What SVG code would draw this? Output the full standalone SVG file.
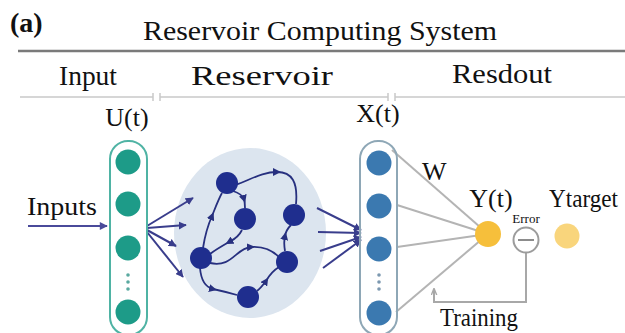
<svg xmlns="http://www.w3.org/2000/svg" width="625" height="333" viewBox="0 0 625 333">
<style>
  text { font-family: "Liberation Serif", "Times New Roman", serif; fill: #111; }
  .hdr { font-size: 28px; }
  .lbl { font-size: 26px; }
  .edge { fill: none; stroke: #27307f; stroke-width: 1.8; }
  .fan { stroke: #393d8c; stroke-width: 2; marker-end: url(#fanArrow); }
  .out { stroke: #b4b4b4; stroke-width: 2; }
  .rnode { fill: #1f2e8e; }
  .unode { fill: #1d9b88; }
  .xnode { fill: #3b79b0; }
</style>
<defs>
  <marker id="midArrow" viewBox="0 0 10 10" refX="5" refY="5" markerWidth="8" markerHeight="8" markerUnits="userSpaceOnUse" orient="auto">
    <path d="M0,0 L10,5 L0,10 z" fill="#27307f"/>
  </marker>
  <marker id="fanArrow" viewBox="0 0 10 10" refX="9" refY="5" markerWidth="8" markerHeight="8" markerUnits="userSpaceOnUse" orient="auto">
    <path d="M0,0 L10,5 L0,10 z" fill="#393d8c"/>
  </marker>
  <marker id="inArrow" viewBox="0 0 10 10" refX="9" refY="5" markerWidth="9" markerHeight="8" markerUnits="userSpaceOnUse" orient="auto">
    <path d="M0,0 L10,5 L0,10 z" fill="#4a4a9a"/>
  </marker>
  <marker id="grayArrow" viewBox="0 0 10 10" refX="9" refY="5" markerWidth="7" markerHeight="7" markerUnits="userSpaceOnUse" orient="auto">
    <path d="M0,1 L10,5 L0,9" fill="none" stroke="#a8a8a8" stroke-width="2"/>
  </marker>
</defs>
<rect width="625" height="333" fill="#ffffff"/>

<!-- headers -->
<g id="header">
  <text x="10" y="32" style="font-size:28px;font-weight:bold">(a)</text>
  <text x="143" y="40" style="font-size:28px" textLength="354" lengthAdjust="spacingAndGlyphs">Reservoir Computing System</text>
  <line x1="18" y1="51" x2="625" y2="51" stroke="#7a7a7a" stroke-width="2.5"/>
  <text class="hdr" x="59" y="85" textLength="58" lengthAdjust="spacingAndGlyphs">Input</text>
  <text class="hdr" x="191" y="85" textLength="142" lengthAdjust="spacingAndGlyphs">Reservoir</text>
  <text class="hdr" x="452" y="83" textLength="100" lengthAdjust="spacingAndGlyphs">Resdout</text>
  <g stroke="#c8c8c8" stroke-width="1.5">
    <line x1="20" y1="97" x2="153" y2="97"/>
    <line x1="153" y1="93" x2="153" y2="101"/>
    <line x1="160" y1="93" x2="160" y2="101"/>
    <line x1="160" y1="97" x2="388" y2="97"/>
    <line x1="388" y1="93" x2="388" y2="101"/>
    <line x1="395" y1="93" x2="395" y2="101"/>
    <line x1="395" y1="97" x2="625" y2="97"/>
  </g>
</g>

<!-- reservoir background -->
<g id="reservoir">
  <ellipse cx="250" cy="233" rx="76" ry="85" fill="#dce5ef"/>
</g>

<!-- connectors -->
<g id="connectors">
  <line x1="28" y1="226" x2="107" y2="226" stroke="#4a4a9a" stroke-width="2" marker-end="url(#inArrow)"/>
  <line class="fan" x1="147" y1="226" x2="193" y2="198"/>
  <line class="fan" x1="147" y1="228" x2="186" y2="225"/>
  <line class="fan" x1="147" y1="230" x2="176" y2="246"/>
  <line class="fan" x1="147" y1="232" x2="183" y2="277"/>
  <g class="res-edges" marker-mid="url(#midArrow)">
    <path class="edge" d="M235,185 C250,180 262,172 277,172 C292,172 298,182 296,204"/>
    <path class="edge" d="M233,191 Q242,194 244,199 Q245,203 245,208"/>
    <path class="edge" d="M203,248 C205,235 208,225 212,216 C216,206 219,198 222,193"/>
    <path class="edge" d="M242,230 C238,238 233,240 229,242 C222,246 215,250 210,254"/>
    <path class="edge" d="M210,263 C232,268 236,248 251,247 C264,246 272,250 279,257"/>
    <path class="edge" d="M285,251 C284,245 284,240 285,236 C286,230 289,227 291,225"/>
    <path class="edge" d="M200,268 C201,280 205,287 213,289 C222,291 230,293 237,295"/>
    <path class="edge" d="M257,291 C261,288 263,285 266,281 C270,274 274,270 279,267"/>
  </g>
  <line class="fan" x1="317" y1="208" x2="361" y2="230"/>
  <line class="fan" x1="318" y1="232" x2="361" y2="233"/>
  <line class="fan" x1="320" y1="251" x2="361" y2="237"/>
  <line class="fan" x1="323" y1="268" x2="361" y2="240"/>
  <line class="out" x1="392" y1="150" x2="488" y2="234"/>
  <line class="out" x1="397" y1="205" x2="488" y2="234"/>
  <line class="out" x1="397" y1="247" x2="488" y2="234"/>
  <line class="out" x1="396" y1="312" x2="488" y2="234"/>
  <path d="M526,253 V302 H434 V289" fill="none" stroke="#a8a8a8" stroke-width="2" marker-end="url(#grayArrow)"/>
</g>

<!-- input layer -->
<g id="input-layer">
  <text class="lbl" x="127" y="126" text-anchor="middle">U(t)</text>
  <text class="lbl" x="27" y="215" textLength="70" lengthAdjust="spacingAndGlyphs">Inputs</text>
  <rect x="110" y="141" width="37" height="194" rx="18" fill="#ffffff" stroke="#4fb3a4" stroke-width="2"/>
  <circle class="unode" cx="128" cy="162" r="12.5"/>
  <circle class="unode" cx="128" cy="204" r="12.5"/>
  <circle class="unode" cx="128" cy="248" r="12.5"/>
  <circle cx="128" cy="275" r="1.8" fill="#5aa9a0"/>
  <circle cx="128" cy="282" r="1.8" fill="#5aa9a0"/>
  <circle cx="128" cy="289" r="1.8" fill="#5aa9a0"/>
  <circle class="unode" cx="128" cy="312" r="12.5"/>
</g>

<g id="reservoir-nodes">
  <circle class="rnode" cx="227" cy="183" r="11"/>
  <circle class="rnode" cx="245" cy="219" r="11"/>
  <circle class="rnode" cx="294" cy="215" r="11"/>
  <circle class="rnode" cx="201" cy="258" r="11"/>
  <circle class="rnode" cx="287" cy="262" r="11"/>
  <circle class="rnode" cx="248" cy="297" r="11"/>
</g>

<!-- state layer -->
<g id="state-layer">
  <text class="lbl" x="378" y="122" text-anchor="middle">X(t)</text>
  <rect x="360" y="141" width="37" height="194" rx="18" fill="none" stroke="#8ea7b6" stroke-width="2"/>
  <circle class="xnode" cx="379" cy="163" r="12.5"/>
  <circle class="xnode" cx="379" cy="206" r="12.5"/>
  <circle class="xnode" cx="379" cy="249" r="12.5"/>
  <circle cx="379" cy="275" r="1.8" fill="#7c98b0"/>
  <circle cx="379" cy="282" r="1.8" fill="#7c98b0"/>
  <circle cx="379" cy="289" r="1.8" fill="#7c98b0"/>
  <circle class="xnode" cx="379" cy="313" r="12.5"/>
  <text class="lbl" x="422" y="180">W</text>
</g>

<!-- readout -->
<g id="output-y">
  <circle cx="488" cy="234" r="13" fill="#f6bf3b"/>
  <text class="lbl" x="491" y="207" text-anchor="middle">Y(t)</text>
</g>
<g id="error">
  <circle cx="526" cy="240" r="12.5" fill="#ffffff" stroke="#9c9c9c" stroke-width="2"/>
  <line x1="518" y1="240" x2="534" y2="240" stroke="#8c8c8c" stroke-width="2"/>
  <text x="526" y="223" text-anchor="middle" style="font-size:13px">Error</text>
</g>
<g id="target">
  <circle cx="567" cy="236" r="12.5" fill="#f9d57c"/>
  <text class="lbl" x="549" y="207" textLength="69" lengthAdjust="spacingAndGlyphs">Ytarget</text>
</g>
<text class="lbl" x="440" y="326" textLength="78" lengthAdjust="spacingAndGlyphs">Training</text>
</svg>
